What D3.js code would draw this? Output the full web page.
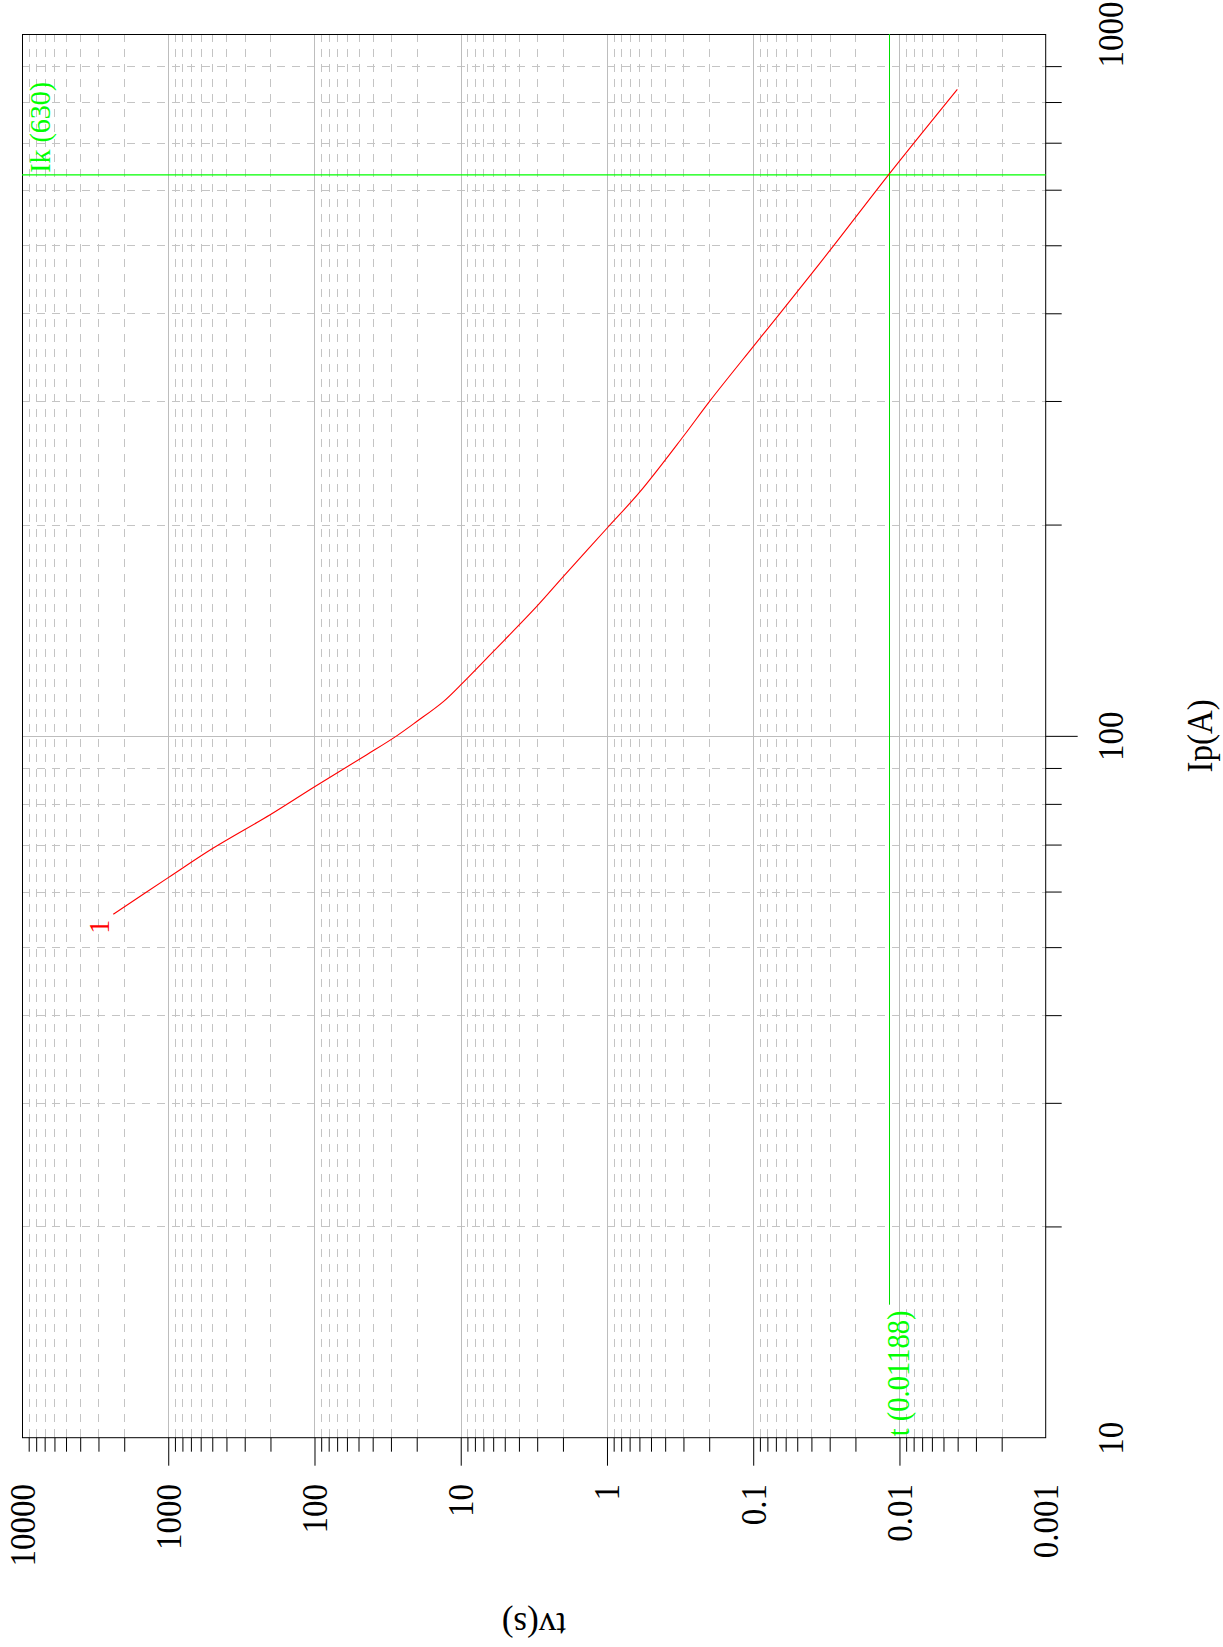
<!DOCTYPE html>
<html><head><meta charset="utf-8">
<script src="https://cdn.jsdelivr.net/npm/d3@7"></script>
<style>body{margin:0;background:#fff} svg{display:block}</style>
</head><body><svg id="c" width="1223" height="1647"></svg>
<script>
// ---- data ----
const tvTicks = [10000, 1000, 100, 10, 1, 0.1, 0.01, 0.001];
const tvTickLabels = ["10000", "1000", "100", "10", "1", "0.1", "0.01", "0.001"];
const ipTicks = [10, 100, 1000];
const ipTickLabels = ["10", "100", "1000"];
const curveIp = [55.7, 62.8, 69.2, 77.2, 84.7, 94.0, 100, 104.8, 111.9, 118.2, 131.9, 152.9, 168.6, 197.6, 222.8, 267, 300.4, 358.6, 400, 492, 630, 834];
const curveTv = [2375, 1000, 492, 201, 99.2, 43.9, 27.4, 20.0, 13.15, 10.0, 5.98, 3.02, 1.99, 1.0, 0.594, 0.301, 0.197, 0.1, 0.0656, 0.0298, 0.01188, 0.00402];
const curveName = "1";
const ikValue = 630;
const tValue = 0.01188;
const ikLabel = "Ik (630)";
const tLabel = "t (0.01188)";
const xTitle = "Ip(A)";
const yTitle = "tv(s)";

// ---- layout ----
const svg = d3.select("#c");
const L = 22, R = 1045.7, T = 34, B = 1437.7;
const FONT = "'Liberation Serif', 'Times New Roman', serif";
const x = d3.scaleLog().domain([10000, 0.001]).range([L, R]);   // tv (horizontal)
const y = d3.scaleLog().domain([1000, 10]).range([T, B]);        // Ip (vertical)
const crisp = v => Math.round(v) + 0.5;

const tvMinor = [];
tvTicks.slice(1).forEach(d => { for (let k = 2; k <= 9; k++) tvMinor.push(d * k); });
const ipMinor = [];
ipTicks.slice(0, -1).forEach(d => { for (let k = 2; k <= 9; k++) ipMinor.push(d * k); });
const tvInner = tvTicks.slice(1, -1);
const ipInner = ipTicks.slice(1, -1);

svg.append("rect").attr("width", 1223).attr("height", 1647).attr("fill", "#fff");

// ---- grid ----
const grid = svg.append("g");
grid.selectAll(".vmin").data(tvMinor).join("line")
  .attr("x1", d => crisp(x(d))).attr("x2", d => crisp(x(d))).attr("y1", T).attr("y2", B)
  .attr("stroke", "#c4c4c4").attr("stroke-dasharray", "8,7");
grid.selectAll(".hmin").data(ipMinor).join("line")
  .attr("y1", d => crisp(y(d))).attr("y2", d => crisp(y(d))).attr("x1", L).attr("x2", R)
  .attr("stroke", "#c4c4c4").attr("stroke-dasharray", "8,7");
grid.selectAll(".vmaj").data(tvInner).join("line")
  .attr("x1", d => crisp(x(d))).attr("x2", d => crisp(x(d))).attr("y1", T).attr("y2", B)
  .attr("stroke", "#bdbdbd");
grid.selectAll(".hmaj").data(ipInner).join("line")
  .attr("y1", d => crisp(y(d))).attr("y2", d => crisp(y(d))).attr("x1", L).attr("x2", R)
  .attr("stroke", "#bdbdbd");

// ---- axes ----
const noDomain = g => g.select(".domain").remove();
const bottom = svg.append("g").attr("transform", `translate(0,${B})`);
bottom.append("g").call(d3.axisBottom(x).tickValues(tvMinor).tickSize(14).tickFormat("")).call(noDomain);
bottom.append("g").call(d3.axisBottom(x).tickValues(tvInner).tickSize(28).tickFormat("")).call(noDomain);
bottom.append("g").call(d3.axisBottom(x).tickValues(tvTicks).tickSize(0).tickFormat((d, i) => tvTickLabels[i]))
  .call(noDomain)
  .call(g => g.selectAll("text")
    .attr("x", null).attr("y", null).attr("dy", null)
    .attr("transform", `translate(12,${1484 - B}) rotate(-90) scale(1,1.08)`)
    .attr("text-anchor", "end")
    .attr("font-family", FONT).attr("font-size", 33).attr("fill", "#000"));

const right = svg.append("g").attr("transform", `translate(${R},0)`);
right.append("g").call(d3.axisRight(y).tickValues(ipMinor).tickSize(16).tickFormat("")).call(noDomain);
right.append("g").call(d3.axisRight(y).tickValues(ipInner).tickSize(32).tickFormat("")).call(noDomain);
right.append("g").call(d3.axisRight(y).tickValues(ipTicks).tickSize(0).tickFormat((d, i) => ipTickLabels[i]))
  .call(noDomain)
  .call(g => g.selectAll("text")
    .attr("x", null).attr("y", null).attr("dy", null)
    .attr("transform", `translate(${1123 - R},0) rotate(-90) scale(1,1.08)`)
    .attr("text-anchor", "middle")
    .attr("font-family", FONT).attr("font-size", 33).attr("fill", "#000"));
svg.selectAll(".tick line").attr("stroke", "#000");

// ---- plot box ----
svg.append("rect").attr("x", L + 0.5).attr("y", T + 0.5).attr("width", R - L - 0.5).attr("height", B - T - 0.5)
  .attr("fill", "none").attr("stroke", "#000").attr("stroke-width", 1);

// ---- markers ----
svg.append("line").attr("x1", L).attr("x2", R).attr("y1", y(ikValue)).attr("y2", y(ikValue))
  .attr("stroke", "#00ff00").attr("stroke-width", 1.3);
svg.append("line").attr("x1", crisp(x(tValue))).attr("x2", crisp(x(tValue))).attr("y1", T).attr("y2", B - 133)
  .attr("stroke", "#00dd00").attr("stroke-width", 1);
svg.append("text").text(ikLabel)
  .attr("transform", `translate(${L + 28},${y(ikValue) - 2}) rotate(-90) scale(1,1.08)`)
  .attr("font-family", FONT).attr("font-size", 28).attr("fill", "#00ff00");
svg.append("text").text(tLabel)
  .attr("transform", `translate(${x(tValue) + 20.7},${B - 1.5}) rotate(-90) scale(1,1.08)`)
  .attr("font-family", FONT).attr("font-size", 28.5).attr("fill", "#00ff00");

// ---- curve ----
const pts = d3.zip(curveIp, curveTv);
svg.append("path").datum(pts)
  .attr("d", d3.line().x(d => x(d[1])).y(d => y(d[0])).curve(d3.curveCatmullRom.alpha(0.5)))
  .attr("fill", "none").attr("stroke", "#ff0000").attr("stroke-width", 1.1);
svg.append("text").text(curveName)
  .attr("transform", `translate(${x(curveTv[0]) - 4.8},${y(curveIp[0]) + 19.5}) rotate(-90) scale(1,1.08)`)
  .attr("font-family", FONT).attr("font-size", 28).attr("fill", "#ff0000");

// ---- titles ----
svg.append("text").text(xTitle)
  .attr("transform", `translate(1211.5,${(T + B) / 2}) rotate(-90) scale(1,1.08)`)
  .attr("text-anchor", "middle").attr("font-family", FONT).attr("font-size", 33).attr("fill", "#000");
svg.append("text").text(yTitle)
  .attr("transform", `translate(${(L + R) / 2},1613.3) rotate(180)`)
  .attr("text-anchor", "middle").attr("font-family", FONT).attr("font-size", 35).attr("fill", "#000");
</script></body></html>
